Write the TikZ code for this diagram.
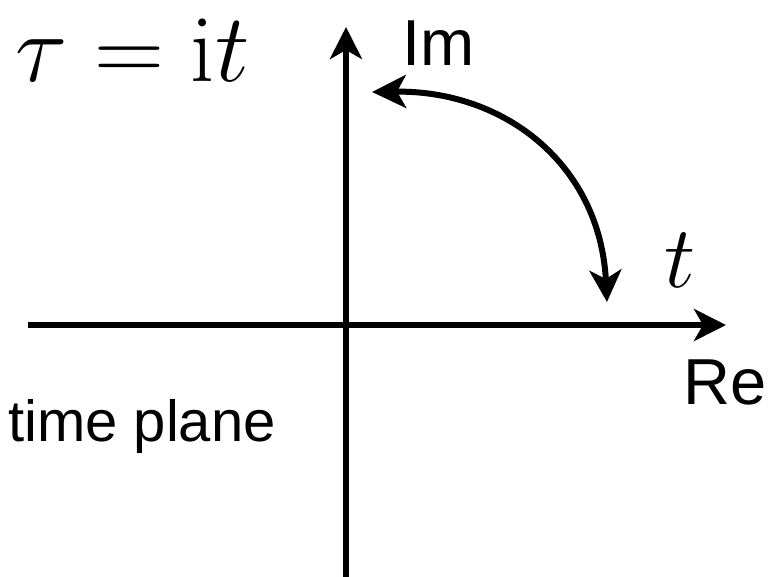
\RequirePackage{fix-cm}
\documentclass[tikz,border=0pt]{standalone}
\usepackage{fontspec}
\setsansfont{Liberation Sans}
\usetikzlibrary{arrows.meta}
\begin{document}
\begin{tikzpicture}[x=1pt,y=-1pt,
  axis/.style={line width=6pt,-{Stealth[length=32pt,width=32pt,inset=9pt]}},
  rotarrow/.style={line width=6pt,{Stealth[length=34pt,width=33pt,inset=9pt]}-{Stealth[length=32pt,width=32pt,inset=9pt]}},
  lbl/.style={anchor=base west,inner sep=0pt,font=\sffamily\fontsize{58}{58}\selectfont},
  axlbl/.style={anchor=base west,inner sep=0pt,font=\sffamily\fontsize{65}{65}\selectfont},
  mlbl/.style={anchor=base west,inner sep=0pt,font=\fontsize{97}{97}\selectfont}]
\useasboundingbox (0,0) rectangle (772,577);
\coordinate (xl) at (28,325);
\coordinate (xr) at (726,325);
\coordinate (yb) at (346,577);
\coordinate (yt) at (346,27);
\coordinate (cs) at (372,92);
\coordinate (ce) at (607,302);
\draw[axis] (xl) -- (xr);
\draw[axis] (yb) -- (yt);
\draw[rotarrow] (cs) .. controls (505,90) and (600,165) .. (ce);
\node[axlbl] (im) at (402,66) {Im};
\node[axlbl] (re) at (683,405) {Re};
\node[lbl] (tp) at (8,442) {time plane};
\node[mlbl] (tau) at (15,82) {$\tau=\mathrm{i}t$};
\node[mlbl,font=\fontsize{88}{88}\selectfont] (t) at (664,288) {$t$};
\end{tikzpicture}
\end{document}
